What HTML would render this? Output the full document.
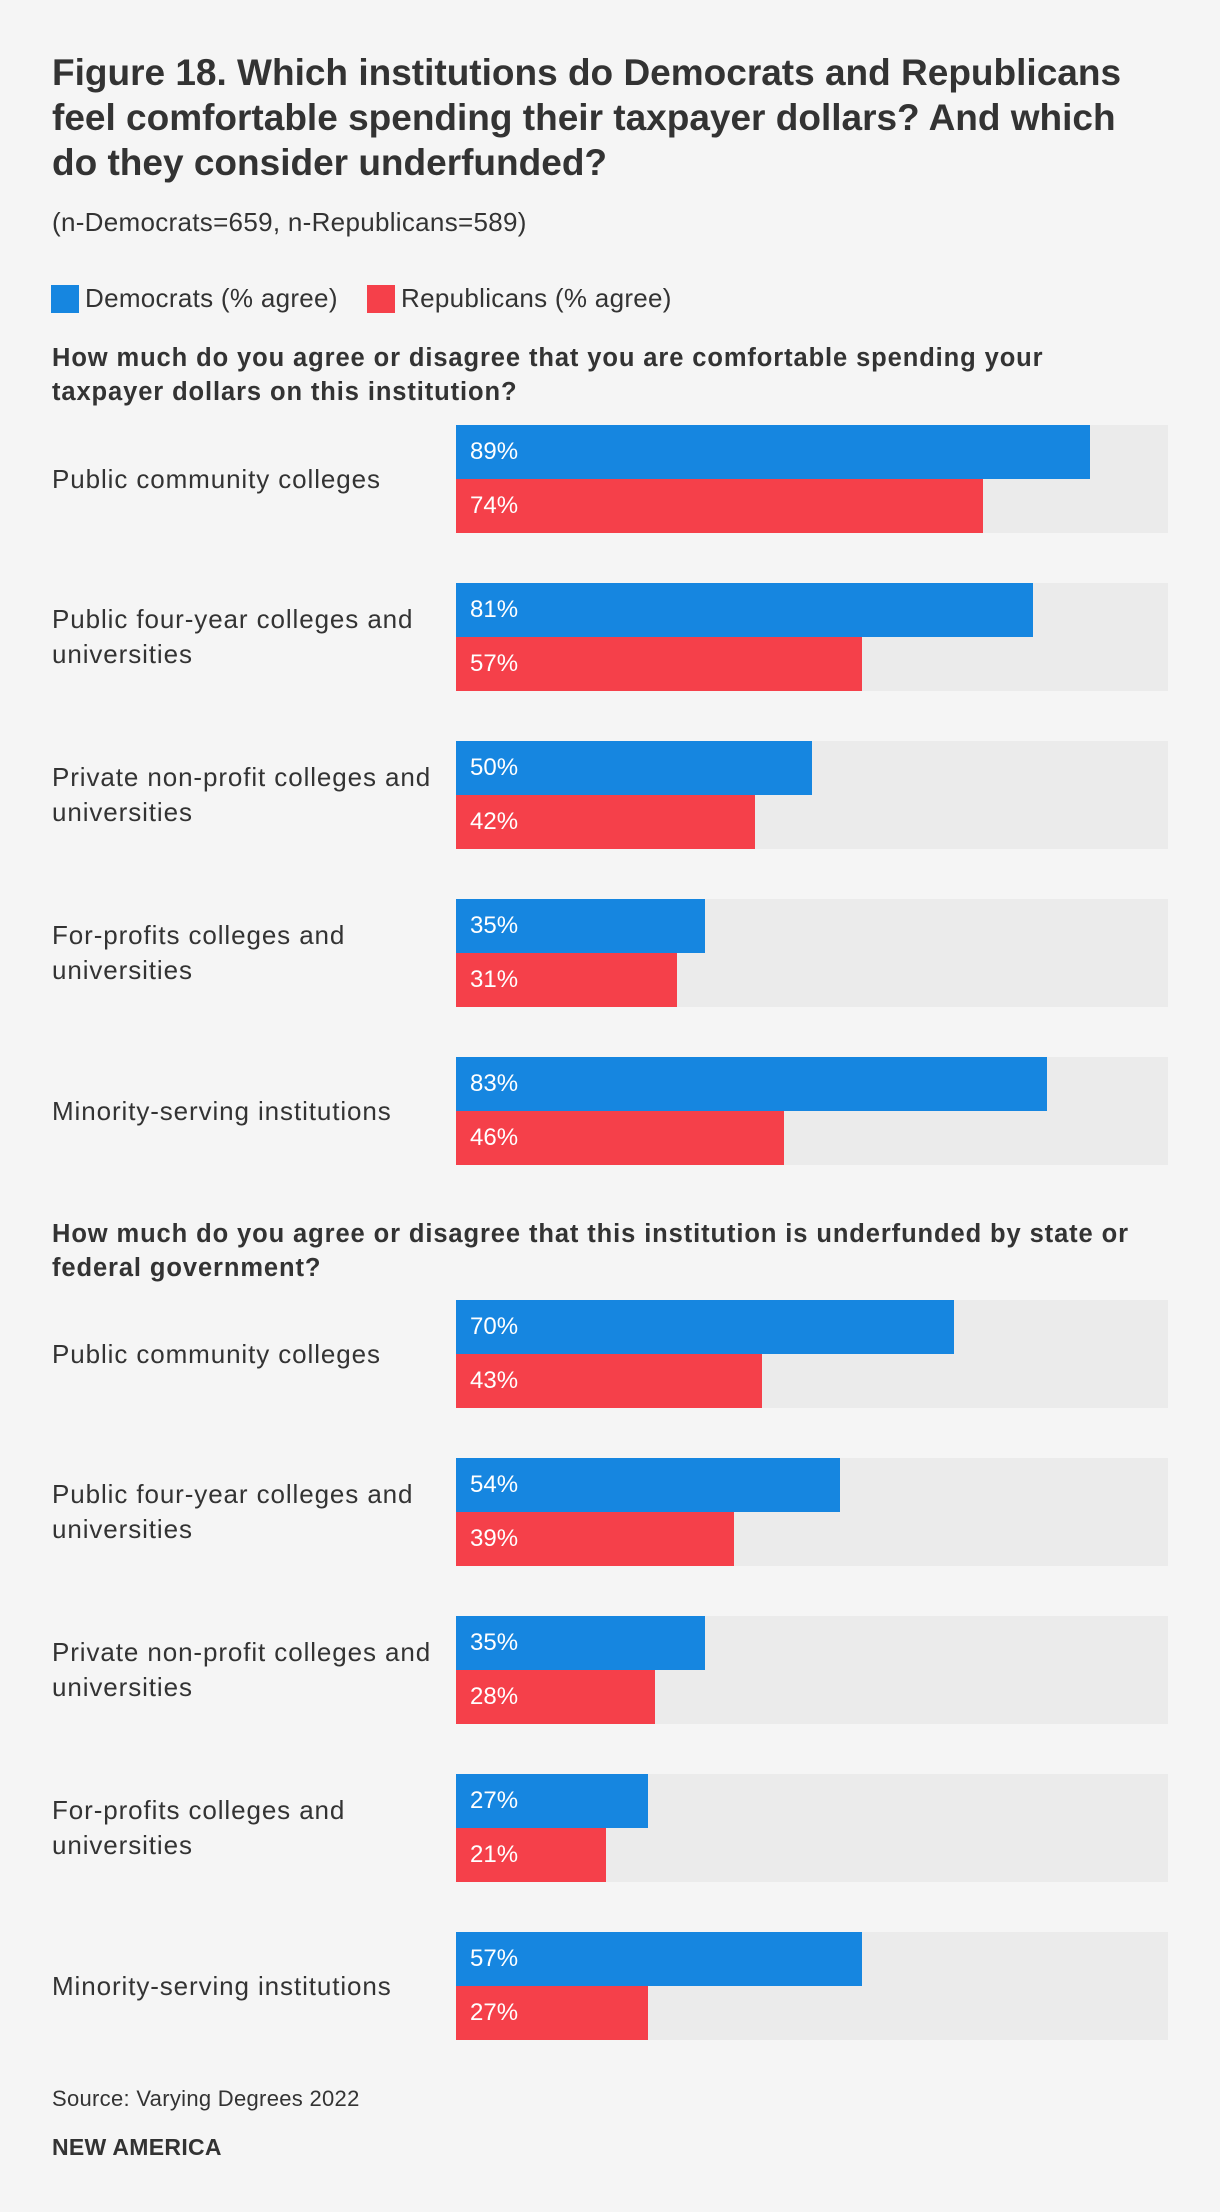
<!DOCTYPE html>
<html><head><meta charset="utf-8"><style>
body{margin:0;background:#f5f5f5;width:1220px;height:2212px;overflow:hidden;font-family:"Liberation Sans",sans-serif;color:#333;position:relative}
.a{position:absolute;margin:0}
h1{font-size:37px;line-height:45px;font-weight:bold;left:52px;top:50px;width:1160px;white-space:nowrap}
.sub{font-size:26px;left:52px;top:207px;letter-spacing:0.3px}
.leg{font-size:26px;top:283px;line-height:30px;letter-spacing:0.3px}
.sq{width:28px;height:28px;top:285px}
.q{font-size:25.5px;font-weight:bold;line-height:34px;left:52px;width:1160px;white-space:nowrap;letter-spacing:0.9px}
.lab{font-size:26px;line-height:35px;left:52px;width:420px;white-space:pre-line;letter-spacing:0.9px}
.val{color:#fff;font-size:24px;line-height:54px;left:470px}
.src{font-size:22px;left:52px;top:2086px;letter-spacing:0.3px}
.brand{font-size:23px;font-weight:bold;left:52px;top:2134px;letter-spacing:0.3px}
</style></head><body>
<h1 class="a">Figure 18. Which institutions do Democrats and Republicans<br>feel comfortable spending their taxpayer dollars? And which<br>do they consider underfunded?</h1>
<p class="a sub">(n-Democrats=659, n-Republicans=589)</p>
<div class="a sq" style="left:51px;background:#1686e0"></div>
<p class="a leg" style="left:85px">Democrats (% agree)</p>
<div class="a sq" style="left:367px;background:#f5404a"></div>
<p class="a leg" style="left:401px">Republicans (% agree)</p>
<p class="a q" style="top:341px">How much do you agree or disagree that you are comfortable spending your<br>taxpayer dollars on this institution?</p>
<p class="a q" style="top:1217px">How much do you agree or disagree that this institution is underfunded by state or<br>federal government?</p>
<div id="chart"></div>
<p class="a src">Source: Varying Degrees 2022</p>
<p class="a brand">NEW AMERICA</p>
<script>
const categories=["Public community colleges","Public four-year colleges and universities","Private non-profit colleges and universities","For-profits colleges and universities","Minority-serving institutions"];
const dem1=[89,81,50,35,83];
const rep1=[74,57,42,31,46];
const dem2=[70,54,35,27,57];
const rep2=[43,39,28,21,27];
const X0=456,W=712,BH=54,PITCH=158;
const xs=v=>v/100*W;
const root=document.getElementById('chart');
function mk(cls,style,text){const d=document.createElement('div');d.className='a '+cls;d.style.cssText=style;if(text)d.textContent=text;root.appendChild(d);return d;}
function section(top,dem,rep){
  categories.forEach((c,i)=>{
    const y=top+i*PITCH;
    const t=mk('','left:'+X0+'px;top:'+y+'px;width:'+W+'px;height:'+(2*BH)+'px;background:#ebebeb');
    
    
    const two=c.indexOf(' universities')>=0;
    const txt=c.replace(' universities','\nuniversities');
    const l=mk('lab','top:'+(y+BH-(two?35:17.5))+'px',txt);
    
    
    [[dem[i],'#1686e0',0,'bar-democrats'],[rep[i],'#f5404a',BH,'bar-republicans']].forEach(([v,col,off,nm])=>{
      const b=mk('','left:'+X0+'px;top:'+(y+off)+'px;width:'+xs(v)+'px;height:'+BH+'px;background:'+col);
      
      
      const vl=mk('val','top:'+(y+off)+'px',v+'%');
      
      
    });
  });
}
section(425,dem1,rep1);
section(1300,dem2,rep2);
</script>
</body></html>
